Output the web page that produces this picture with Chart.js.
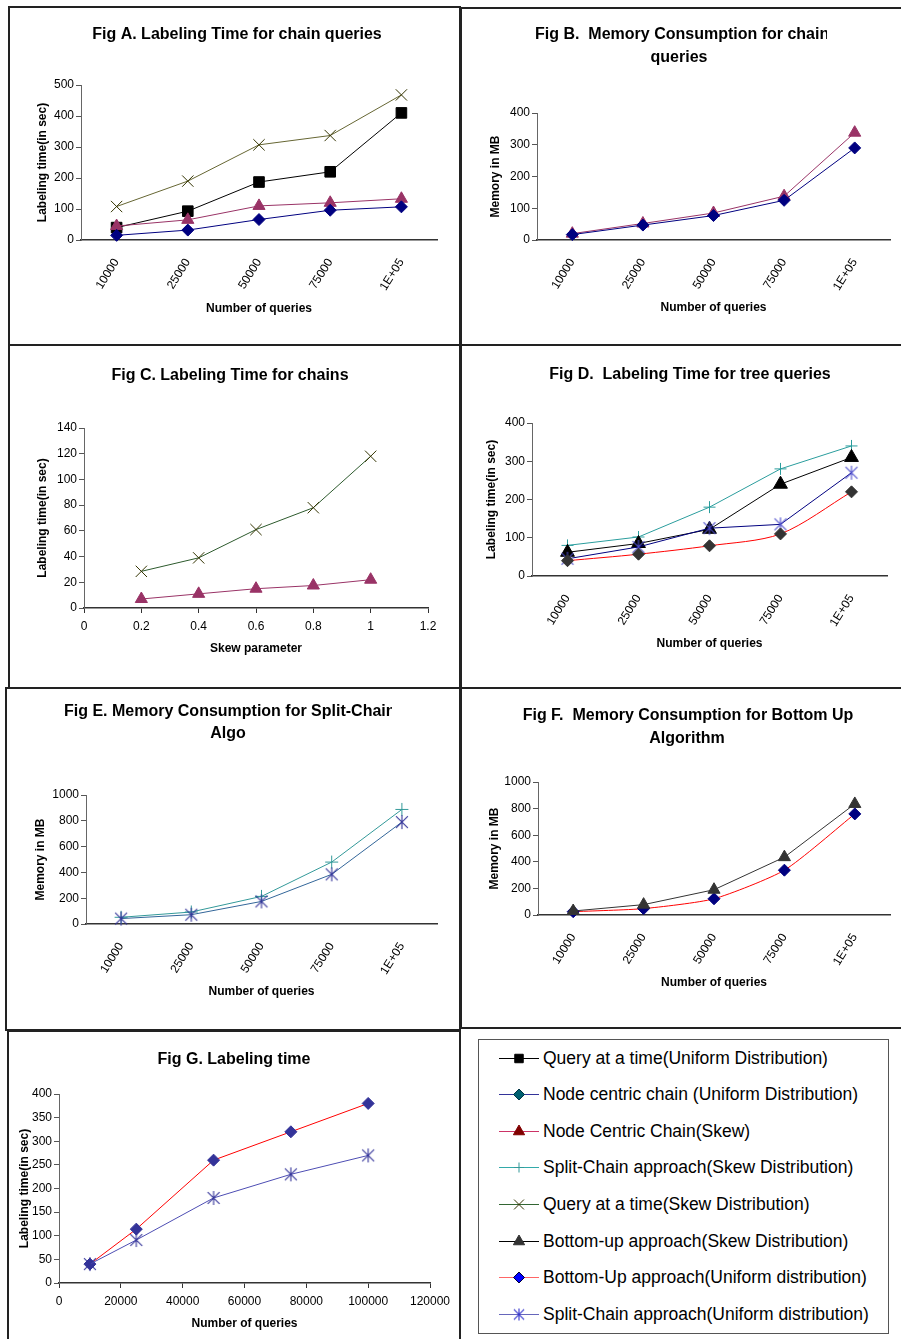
<!DOCTYPE html>
<html>
<head>
<meta charset="utf-8">
<script src="https://cdn.jsdelivr.net/npm/chart.js@4.4.1/dist/chart.umd.min.js"></script>
<style>
  body { margin: 0; background: #fff; }
  #page { position: relative; width: 901px; height: 1339px; overflow: hidden; background: #fff;
          font-family: "Liberation Sans", Arial, Helvetica, sans-serif; }
  .frame { position: absolute; box-sizing: border-box; border: 2px solid #222; }
  .legend-box { position: absolute; box-sizing: border-box; border: 1px solid #555; }
  .legend-row { position: absolute; left: 543px; height: 22px; line-height: 22px; font-size: 17.5px; color: #000; white-space: nowrap; }
  .legend-swatch { position: absolute; }
</style>
</head>
<body>
<div id="page">
  <div class="frame" style="left:8px;top:6px;width:453px;height:340px"></div>
  <div class="frame" style="left:460px;top:7px;width:445px;height:339px"></div>
  <div class="frame" style="left:8px;top:344px;width:453px;height:345px"></div>
  <div class="frame" style="left:460px;top:344px;width:445px;height:345px"></div>
  <div class="frame" style="left:5px;top:687px;width:456px;height:344px"></div>
  <div class="frame" style="left:460px;top:687px;width:445px;height:342px"></div>
  <div class="frame" style="left:7px;top:1030px;width:454px;height:320px"></div>
  <div class="legend-box" style="left:478px;top:1039px;width:411px;height:295px"></div>
</div>

<script>
// valeurs
const queryLabels = ['10000', '25000', '50000', '75000', '1E+05'];
const skewValues = [0.2, 0.4, 0.6, 0.8, 1];
const queryCounts = [10000, 25000, 50000, 75000, 100000];

// Fig A
const aQueryUniform = [40, 93, 187, 220, 410];
const aNodeUniform = [15, 32, 66, 96, 107];
const aNodeSkew = [45, 65, 110, 120, 133];
const aQuerySkew = [108, 190, 307, 337, 468];
const aYTicks = [0, 100, 200, 300, 400, 500];

// Fig B
const bNodeUniform = [17, 47, 77, 125, 290];
const bNodeSkew = [20, 52, 85, 138, 338];
const bYTicks = [0, 100, 200, 300, 400];

// Fig C
const cQuerySkew = [28.5, 39, 61, 78, 118];
const cNodeSkew = [7, 11, 15, 17.5, 22];
const cYTicks = [0, 20, 40, 60, 80, 100, 120, 140];
const cXTicks = [0, 0.2, 0.4, 0.6, 0.8, 1, 1.2];

// Fig D
const dSplitSkew = [80, 102, 180, 280, 340];
const dBottomSkew = [62, 85, 122, 240, 310];
const dSplitUniform = [45, 76, 125, 135, 270];
const dBottomUniform = [40, 57, 79, 110, 220];
const dYTicks = [0, 100, 200, 300, 400];

// Fig E
const eSplitSkew = [52, 93, 214, 480, 888];
const eSplitUniform = [42, 72, 175, 385, 790];
const eYTicks = [0, 200, 400, 600, 800, 1000];

// Fig F
const fBottomSkew = [30, 78, 190, 435, 835];
const fBottomUniform = [25, 48, 122, 337, 760];
const fYTicks = [0, 200, 400, 600, 800, 1000];

// Fig G
const gBottomUniform = [40, 114, 260, 320, 380];
const gSplitUniform = [40, 91, 180, 230, 270];
const gYTicks = [0, 50, 100, 150, 200, 250, 300, 350, 400];
const gXTicks = [0, 20000, 40000, 60000, 80000, 100000, 120000];

const legendNames = [
  'Query at a time(Uniform Distribution)',
  'Node centric chain (Uniform Distribution)',
  'Node Centric Chain(Skew)',
  'Split-Chain approach(Skew Distribution)',
  'Query at a time(Skew Distribution)',
  'Bottom-up approach(Skew Distribution)',
  'Bottom-Up approach(Uniform distribution)',
  'Split-Chain approach(Uniform distribution)'
];

const FONT = '"Liberation Sans", Arial, Helvetica, sans-serif';
const tickFont = { family: FONT, size: 12 };
const axisFont = { family: FONT, size: 12, weight: 'bold' };

// astérisque façon Excel (X + barre verticale)
function asterisk(color, r) {
  const c = document.createElement('canvas');
  const s = Math.ceil(r * 2 + 2);
  c.width = s; c.height = s;
  const g = c.getContext('2d');
  g.strokeStyle = color;
  g.lineWidth = 1.1;
  const m = s / 2, d = r * 0.85;
  g.beginPath();
  g.moveTo(m - d, m - d); g.lineTo(m + d, m + d);
  g.moveTo(m + d, m - d); g.lineTo(m - d, m + d);
  g.moveTo(m, m - r); g.lineTo(m, m + r);
  g.stroke();
  return c;
}

function serie(label, data, line, point, style, radius, extra) {
  return Object.assign({
    label, data,
    borderColor: line, borderWidth: 1,
    pointStyle: style, pointRadius: radius,
    pointBackgroundColor: point, pointBorderColor: point, pointBorderWidth: 1,
    tension: 0, clip: false
  }, extra || {});
}

function pts(xs, ys) {
  return xs.map((x, i) => ({ x: x, y: ys[i] }));
}

// titre dessiné à une position fixe
const panelTitle = {
  id: 'panelTitle',
  afterDraw(chart, args, opts) {
    const ctx = chart.ctx;
    ctx.save();
    ctx.font = 'bold 16px ' + FONT;
    ctx.fillStyle = '#000';
    ctx.textBaseline = 'middle';
    opts.lines.forEach(l => {
      ctx.save();
      if (l.clip != null) {
        ctx.beginPath();
        ctx.rect(0, 0, l.clip, chart.height);
        ctx.clip();
      }
      ctx.textAlign = l.align || 'center';
      ctx.fillText(l.text, l.x, l.y);
      ctx.restore();
    });
    ctx.restore();
  }
};

function drawPanel(p) {
  const bx = p.box.x, by = p.box.y, bw = p.box.w, bh = p.box.h;
  const c = document.createElement('canvas');
  c.width = bw; c.height = bh;
  Object.assign(c.style, { position: 'absolute', left: bx + 'px', top: by + 'px', width: bw + 'px', height: bh + 'px' });
  document.getElementById('page').appendChild(c);

  let xScale;
  if (p.xTicks) {
    xScale = {
      type: 'linear',
      min: p.xTicks[0], max: p.xTicks[p.xTicks.length - 1],
      afterBuildTicks: s => { s.ticks = p.xTicks.map(v => ({ value: v })); },
      ticks: { font: tickFont, color: '#000', padding: 6, maxRotation: 0, callback: v => String(v) },
      grid: { drawOnChartArea: false, drawTicks: true, tickLength: 5, color: '#333' }
    };
  } else {
    xScale = {
      type: 'category', labels: p.labels, offset: true,
      ticks: { font: tickFont, color: '#000', padding: 16, minRotation: 58, maxRotation: 58, autoSkip: false },
      grid: { drawOnChartArea: false, drawTicks: false }
    };
  }
  Object.assign(xScale, {
    border: { color: '#333', width: 1.5 },
    title: { display: true, text: p.xTitle, font: axisFont, color: '#000',
             padding: { top: 0, bottom: by + bh - p.xTitleY - 7.2 } },
    afterFit: s => { s.height = by + bh - p.area.b; }
  });

  const yScale = {
    min: p.yTicks[0], max: p.yTicks[p.yTicks.length - 1],
    afterBuildTicks: s => { s.ticks = p.yTicks.map(v => ({ value: v })); },
    ticks: { font: tickFont, color: '#000', padding: 2, callback: v => String(v) },
    grid: { drawOnChartArea: false, drawTicks: true, tickLength: 5, color: '#555' },
    border: { color: '#666', width: 1 },
    title: { display: true, text: p.yTitle, font: axisFont, color: '#000',
             padding: { top: p.yTitleX - bx - 7.2, bottom: 0 } },
    afterFit: s => { s.width = p.area.l - bx; }
  };

  return new Chart(c, {
    type: 'line',
    data: { labels: p.labels, datasets: p.datasets },
    options: {
      responsive: false,
      animation: false,
      events: [],
      layout: { padding: { left: 0, top: p.area.t - by, right: bx + bw - p.area.r, bottom: 0 } },
      plugins: {
        legend: { display: false },
        tooltip: { enabled: false },
        panelTitle: { lines: p.titles.map(t => Object.assign({}, t, {
          x: t.x - bx, y: t.y - by, clip: t.clip != null ? t.clip - bx : null })) }
      },
      scales: { x: xScale, y: yScale }
    },
    plugins: [panelTitle]
  });
}

// Fig A
drawPanel({
  box: { x: 10, y: 8, w: 449, h: 336 },
  area: { l: 81, t: 85, r: 437, b: 240 },
  titles: [{ text: 'Fig A. Labeling Time for chain queries', x: 237, y: 35 }],
  yTitle: 'Labeling time(in sec)', yTitleX: 43,
  xTitle: 'Number of queries', xTitleY: 309,
  labels: queryLabels, yTicks: aYTicks,
  datasets: [
    serie(legendNames[1], aNodeUniform, '#000080', '#000080', 'rectRot', 6),
    serie(legendNames[2], aNodeSkew, '#993366', '#993366', 'triangle', 7),
    serie(legendNames[0], aQueryUniform, '#000000', '#000000', 'rect', 7.5),
    serie(legendNames[4], aQuerySkew, '#666633', '#333300', 'crossRot', 8)
  ]
});

// Fig B
drawPanel({
  box: { x: 462, y: 9, w: 438, h: 335 },
  area: { l: 537, t: 113, r: 890, b: 240 },
  titles: [
    { text: 'Fig B.  Memory Consumption for chain', x: 535, y: 35, align: 'left', clip: 827 },
    { text: 'queries', x: 679, y: 58 }
  ],
  yTitle: 'Memory in MB', yTitleX: 496,
  xTitle: 'Number of queries', xTitleY: 308,
  labels: queryLabels, yTicks: bYTicks,
  datasets: [
    serie(legendNames[1], bNodeUniform, '#000080', '#000080', 'rectRot', 6),
    serie(legendNames[2], bNodeSkew, '#993366', '#993366', 'triangle', 7)
  ]
});

// Fig C
drawPanel({
  box: { x: 10, y: 346, w: 449, h: 341 },
  area: { l: 84, t: 428, r: 428, b: 608 },
  titles: [{ text: 'Fig C. Labeling Time for chains', x: 230, y: 376 }],
  yTitle: 'Labeling time(in sec)', yTitleX: 43,
  xTitle: 'Skew parameter', xTitleY: 649,
  xTicks: cXTicks, yTicks: cYTicks,
  datasets: [
    serie(legendNames[2], pts(skewValues, cNodeSkew), '#993366', '#993366', 'triangle', 7),
    serie(legendNames[4], pts(skewValues, cQuerySkew), '#2d5a2d', '#333300', 'crossRot', 8)
  ]
});

// Fig D
drawPanel({
  box: { x: 462, y: 346, w: 438, h: 341 },
  area: { l: 532, t: 423, r: 887, b: 576 },
  titles: [{ text: 'Fig D.  Labeling Time for tree queries', x: 690, y: 375 }],
  yTitle: 'Labeling time(in sec)', yTitleX: 492,
  xTitle: 'Number of queries', xTitleY: 644,
  labels: queryLabels, yTicks: dYTicks,
  datasets: [
    serie(legendNames[6], dBottomUniform, '#ff0000', '#333333', 'rectRot', 6, { tension: 0.3 }),
    serie(legendNames[7], dSplitUniform, '#000080', '#4d4dcc', asterisk('#4d4dcc', 7), 7),
    serie(legendNames[5], dBottomSkew, '#000000', '#000000', 'triangle', 8),
    serie(legendNames[3], dSplitSkew, '#2a9d9d', '#2a9d9d', 'cross', 6)
  ]
});

// Fig E
drawPanel({
  box: { x: 7, y: 689, w: 452, h: 340 },
  area: { l: 86, t: 795, r: 437, b: 924 },
  titles: [
    { text: 'Fig E. Memory Consumption for Split-Chain', x: 64, y: 712, align: 'left', clip: 392 },
    { text: 'Algo', x: 228, y: 734 }
  ],
  yTitle: 'Memory in MB', yTitleX: 41,
  xTitle: 'Number of queries', xTitleY: 992,
  labels: queryLabels, yTicks: eYTicks,
  datasets: [
    serie(legendNames[7], eSplitUniform, '#336699', '#333399', asterisk('#333399', 7), 7),
    serie(legendNames[3], eSplitSkew, '#339999', '#339999', 'cross', 6.5)
  ]
});

// Fig F
drawPanel({
  box: { x: 462, y: 689, w: 438, h: 338 },
  area: { l: 538, t: 782, r: 890, b: 915 },
  titles: [
    { text: 'Fig F.  Memory Consumption for Bottom Up', x: 688, y: 716 },
    { text: 'Algorithm', x: 687, y: 739 }
  ],
  yTitle: 'Memory in MB', yTitleX: 495,
  xTitle: 'Number of queries', xTitleY: 983,
  labels: queryLabels, yTicks: fYTicks,
  datasets: [
    serie(legendNames[5], fBottomSkew, '#333333', '#333333', 'triangle', 7),
    serie(legendNames[6], fBottomUniform, '#ff0000', '#000080', 'rectRot', 6, { tension: 0.2 })
  ]
});

// Fig G
drawPanel({
  box: { x: 9, y: 1032, w: 450, h: 307 },
  area: { l: 59, t: 1094, r: 430, b: 1283 },
  titles: [{ text: 'Fig G. Labeling time', x: 234, y: 1060 }],
  yTitle: 'Labeling time(in sec)', yTitleX: 25,
  xTitle: 'Number of queries', xTitleY: 1324,
  xTicks: gXTicks, yTicks: gYTicks,
  datasets: [
    serie(legendNames[7], pts(queryCounts, gSplitUniform), '#4d4db3', '#333399', asterisk('#333399', 7), 7),
    serie(legendNames[6], pts(queryCounts, gBottomUniform), '#ff0000', '#333399', 'rectRot', 6)
  ]
});

// légende commune
const legendStyles = [
  { line: '#000000', fill: '#000000', stroke: '#000000', style: 'rect', r: 6 },
  { line: '#333399', fill: '#006070', stroke: '#003344', style: 'rectRot', r: 5.5 },
  { line: '#cc3366', fill: '#800000', stroke: '#800000', style: 'triangle', r: 6.5 },
  { line: '#33aaaa', fill: '#339999', stroke: '#339999', style: 'cross', r: 5 },
  { line: '#336633', fill: '#333300', stroke: '#333300', style: 'crossRot', r: 7 },
  { line: '#000000', fill: '#333333', stroke: '#333333', style: 'triangle', r: 6.5 },
  { line: '#ff6666', fill: '#0000ff', stroke: '#000033', style: 'rectRot', r: 5.5 },
  { line: '#6666bb', fill: '#3333cc', stroke: '#3333cc', style: asterisk('#3333cc', 6), r: 6 }
];
const legendRowY = [1058, 1094, 1131, 1167, 1204, 1241, 1277, 1314];

const page = document.getElementById('page');
legendNames.forEach((name, i) => {
  const st = legendStyles[i];
  const y = legendRowY[i];
  const sw = document.createElement('canvas');
  sw.width = 46; sw.height = 20;
  sw.className = 'legend-swatch';
  sw.style.left = '496px';
  sw.style.top = (y - 10) + 'px';
  page.appendChild(sw);
  const g = sw.getContext('2d');
  g.strokeStyle = st.line;
  g.lineWidth = 1;
  g.beginPath();
  g.moveTo(3, 10.5); g.lineTo(43, 10.5);
  g.stroke();
  g.fillStyle = st.fill;
  g.strokeStyle = st.stroke;
  Chart.helpers.drawPoint(g, { pointStyle: st.style, radius: st.r, rotation: 0, borderWidth: 1 }, 23, 10.5);

  const row = document.createElement('div');
  row.className = 'legend-row';
  row.style.top = (y - 11) + 'px';
  row.textContent = name;
  page.appendChild(row);
});
</script>
</body>
</html>
